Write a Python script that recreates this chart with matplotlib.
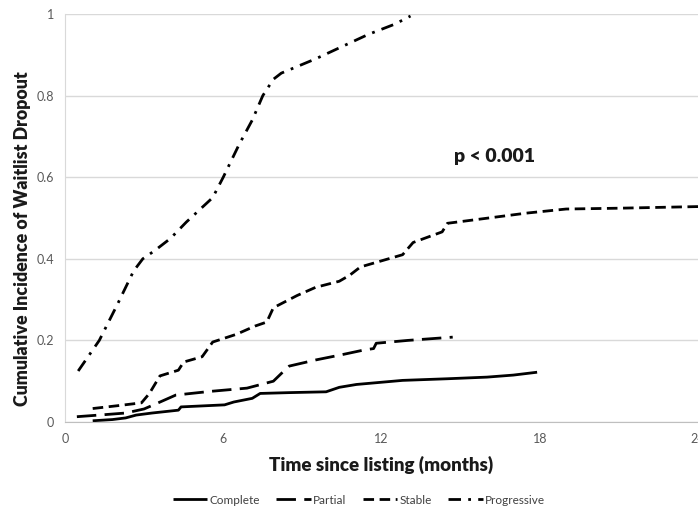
import matplotlib
matplotlib.use("Agg")
import matplotlib.pyplot as plt

plt.rcParams['font.family'] = ['Lato', 'DejaVu Sans']

# ---- data (months, cumulative incidence) ----
complete_t = [1.05, 1.8, 2.3, 2.7, 3.3, 4.3, 4.4, 6.05, 6.4, 7.1, 7.4, 8.5, 9.9, 10.4, 11.05, 12.8, 14.5, 16.0, 17.0, 17.9]
complete_y = [0.003, 0.006, 0.010, 0.017, 0.022, 0.029, 0.037, 0.042, 0.049, 0.058, 0.070, 0.072, 0.074, 0.085, 0.092, 0.102, 0.106, 0.110, 0.115, 0.122]

partial_t = [0.45, 1.5, 2.3, 3.0, 3.5, 4.2, 5.5, 6.9, 7.9, 8.3, 8.5, 9.5, 10.5, 11.3, 11.7, 11.8, 13.0, 14.7]
partial_y = [0.013, 0.018, 0.022, 0.032, 0.046, 0.066, 0.075, 0.083, 0.100, 0.125, 0.137, 0.152, 0.165, 0.176, 0.180, 0.193, 0.200, 0.208]

stable_t = [1.05, 2.0, 2.9, 3.2, 3.6, 4.3, 4.5, 5.2, 5.6, 6.5, 7.2, 7.65, 7.9, 8.8, 9.5, 10.4, 10.8, 11.2, 12.0, 12.8, 13.2, 14.3, 14.5, 15.7, 17.5, 19.0, 21.0, 24.0]
stable_y = [0.033, 0.040, 0.047, 0.070, 0.113, 0.127, 0.147, 0.160, 0.196, 0.215, 0.235, 0.245, 0.280, 0.310, 0.330, 0.345, 0.360, 0.380, 0.395, 0.410, 0.440, 0.466, 0.487, 0.497, 0.512, 0.522, 0.524, 0.528]

progressive_t = [0.5, 1.3, 2.0, 2.6, 2.95, 3.4, 4.0, 4.6, 5.6, 6.0, 6.6, 7.1, 7.5, 7.9, 8.2, 9.5, 10.5, 11.5, 12.5, 13.1]
progressive_y = [0.125, 0.200, 0.290, 0.370, 0.400, 0.420, 0.450, 0.490, 0.550, 0.600, 0.680, 0.740, 0.800, 0.840, 0.855, 0.890, 0.920, 0.950, 0.975, 0.995]

x_ticks = [0, 6, 12, 18, 24]
y_ticks = [0, 0.2, 0.4, 0.6, 0.8, 1]
y_tick_labels = ['0', '0.2', '0.4', '0.6', '0.8', '1']

# ---- figure ----
fig = plt.figure(figsize=(6.98, 5.13), dpi=100)
ax = fig.add_axes([65/698, 1-422/513, 1-65/698, (422-14)/513])

lw = 2.0
ax.plot(complete_t, complete_y, color='black', lw=lw, linestyle='-', label='Complete', solid_capstyle='butt')
ax.plot(partial_t, partial_y, color='black', lw=lw, linestyle=(0, (7, 3)), label='Partial', dash_capstyle='butt')
ax.plot(stable_t, stable_y, color='black', lw=lw, linestyle=(0, (3.8, 2)), label='Stable', dash_capstyle='butt')
ax.plot(progressive_t, progressive_y, color='black', lw=lw, linestyle=(0, (4.5, 2.6, 1, 2.6)), label='Progressive', dash_capstyle='butt')

ax.set_xlim(0, 24)
ax.set_ylim(0, 1)
ax.set_xticks(x_ticks)
ax.set_yticks(y_ticks)
ax.set_yticklabels(y_tick_labels)
ax.tick_params(axis='both', length=0, labelsize=9, colors='#595959', pad=8)
ax.grid(axis='y', color='#d9d9d9', lw=1)
ax.set_axisbelow(True)
for s in ['top', 'right']:
    ax.spines[s].set_visible(False)
ax.spines['left'].set_color('#d9d9d9')
ax.spines['bottom'].set_color('#bfbfbf')

ax.set_xlabel('Time since listing (months)', fontsize=13.5, fontweight='heavy', color='#1a1a1a', labelpad=8)
ax.set_ylabel('Cumulative Incidence of Waitlist Dropout', fontsize=12.8, fontweight='heavy', color='#1a1a1a')
ax.yaxis.set_label_coords(-34/633, 0.45)

ax.text(16.3, 0.65, 'p < 0.001', fontsize=14, fontweight='heavy', color='#1a1a1a', ha='center', va='center')

fig.legend(loc='center', bbox_to_anchor=(359/698, 1-500/513), ncol=4, frameon=False,
           fontsize=8.5, handlelength=2.9, handletextpad=0.2, columnspacing=1.4, labelcolor='#404040')

fig.savefig('out.png', dpi=100)
